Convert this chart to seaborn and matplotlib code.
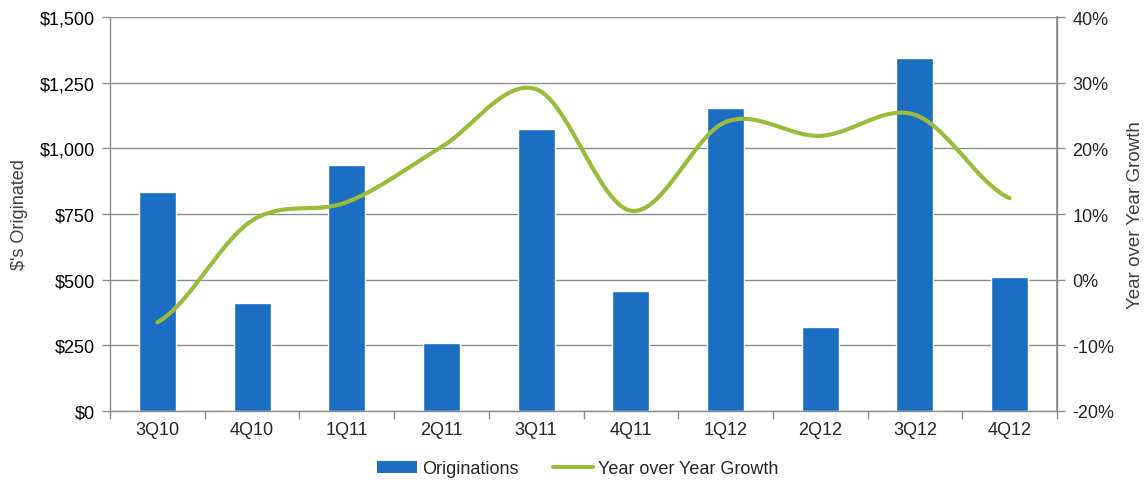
import numpy as np
import pandas as pd
import matplotlib
matplotlib.use("Agg")
import matplotlib.pyplot as plt
from matplotlib.lines import Line2D
from matplotlib.patches import Patch
import seaborn as sns

quarters = ["3Q10", "4Q10", "1Q11", "2Q11", "3Q11", "4Q11", "1Q12", "2Q12", "3Q12", "4Q12"]
originations = [835, 413, 938, 260, 1075, 457, 1155, 321, 1344, 512]
yoy_growth = [-6.5, 9.0, 11.8, 20.2, 29.0, 10.5, 24.0, 21.9, 25.1, 12.4]

left_ticks = [0, 250, 500, 750, 1000, 1250, 1500]
left_labels = ["$0", "$250", "$500", "$750", "$1,000", "$1,250", "$1,500"]
right_ticks = [-20, -10, 0, 10, 20, 30, 40]
right_labels = ["-20%", "-10%", "0%", "10%", "20%", "30%", "40%"]

BAR = "#1B6EC2"
LINE = "#9BBB3B"
GRID = "#8C8C8C"

sns.set_theme(style="white")
plt.rcParams["font.family"] = ["Liberation Sans", "DejaVu Sans"]

df = pd.DataFrame({"quarter": quarters, "orig": originations, "yoy": yoy_growth})

fig = plt.figure(figsize=(11.48, 4.85), dpi=100)
ax = fig.add_axes([110 / 1148, 1 - 412 / 485, (1057 - 110) / 1148, (412 - 18) / 485])

sns.barplot(data=df, x="quarter", y="orig", color=BAR, width=0.39, saturation=1, ax=ax, zorder=2)
ax.set_ylim(0, 1500)
ax.set_xlim(-0.5, len(quarters) - 0.5)
ax.set_yticks(left_ticks)
ax.set_yticklabels(left_labels)
ax.yaxis.grid(True, color=GRID, linewidth=1.0)
ax.set_axisbelow(True)
ax.set_xlabel("")
ax.set_ylabel("$'s Originated", fontsize=13, color="#404040", labelpad=8)
ax.tick_params(axis="y", labelsize=13, colors="#000000", length=6, width=1, color=GRID, left=True, pad=5)
ax.tick_params(axis="x", labelsize=13, length=0, pad=7)
# category-boundary tick marks on the x axis
ax.set_xticks(np.arange(-0.5, len(quarters)), minor=True)
ax.tick_params(axis="x", which="minor", length=6, width=1, color=GRID, bottom=True)
for side in ["left", "bottom", "right"]:
    ax.spines[side].set_color(GRID)
    ax.spines[side].set_linewidth(1)
ax.spines["top"].set_visible(False)


def smooth_curve(xs, ys, n=40, tension=0.5):
    """Cardinal spline through the points, like a smoothed line chart."""
    xs = np.asarray(xs, float)
    ys = np.asarray(ys, float)
    px = np.concatenate([[2 * xs[0] - xs[1]], xs, [2 * xs[-1] - xs[-2]]])
    py = np.concatenate([[ys[0]], ys, [ys[-1]]])
    out_x, out_y = [], []
    t = np.linspace(0, 1, n)
    for i in range(1, len(px) - 2):
        m1x = tension * (px[i + 1] - px[i - 1])
        m2x = tension * (px[i + 2] - px[i])
        m1y = tension * (py[i + 1] - py[i - 1])
        m2y = tension * (py[i + 2] - py[i])
        h00 = 2 * t**3 - 3 * t**2 + 1
        h10 = t**3 - 2 * t**2 + t
        h01 = -2 * t**3 + 3 * t**2
        h11 = t**3 - t**2
        out_x.append(h00 * px[i] + h10 * m1x + h01 * px[i + 1] + h11 * m2x)
        out_y.append(h00 * py[i] + h10 * m1y + h01 * py[i + 1] + h11 * m2y)
    return np.concatenate(out_x), np.concatenate(out_y)


ax2 = ax.twinx()
cx, cy = smooth_curve(np.arange(len(quarters)), yoy_growth)
sns.lineplot(x=cx, y=cy, color=LINE, linewidth=3, sort=False, ax=ax2, zorder=3)
ax2.set_ylim(-20, 40)
ax2.set_yticks(right_ticks)
ax2.set_yticklabels(right_labels)
ax2.set_ylabel("Year over Year Growth", fontsize=13.5, color="#404040", labelpad=9)
ax2.tick_params(axis="y", labelsize=13, length=6, width=1, color=GRID, right=True, pad=5)
ax2.grid(False)
for side in ["left", "bottom", "right", "top"]:
    ax2.spines[side].set_visible(False)
ax2.spines["right"].set_visible(True)
ax2.spines["right"].set_color(GRID)

handles = [Patch(facecolor=BAR, edgecolor="none"), Line2D([0], [0], color=LINE, linewidth=3)]
fig.legend(handles, ["Originations", "Year over Year Growth"], loc="center",
           bbox_to_anchor=(578 / 1148, 1 - 470 / 485), ncol=2, frameon=False,
           fontsize=13, handlelength=2.2, handleheight=0.6, columnspacing=1.9, handletextpad=0.3)

fig.savefig("out.png", dpi=100)
